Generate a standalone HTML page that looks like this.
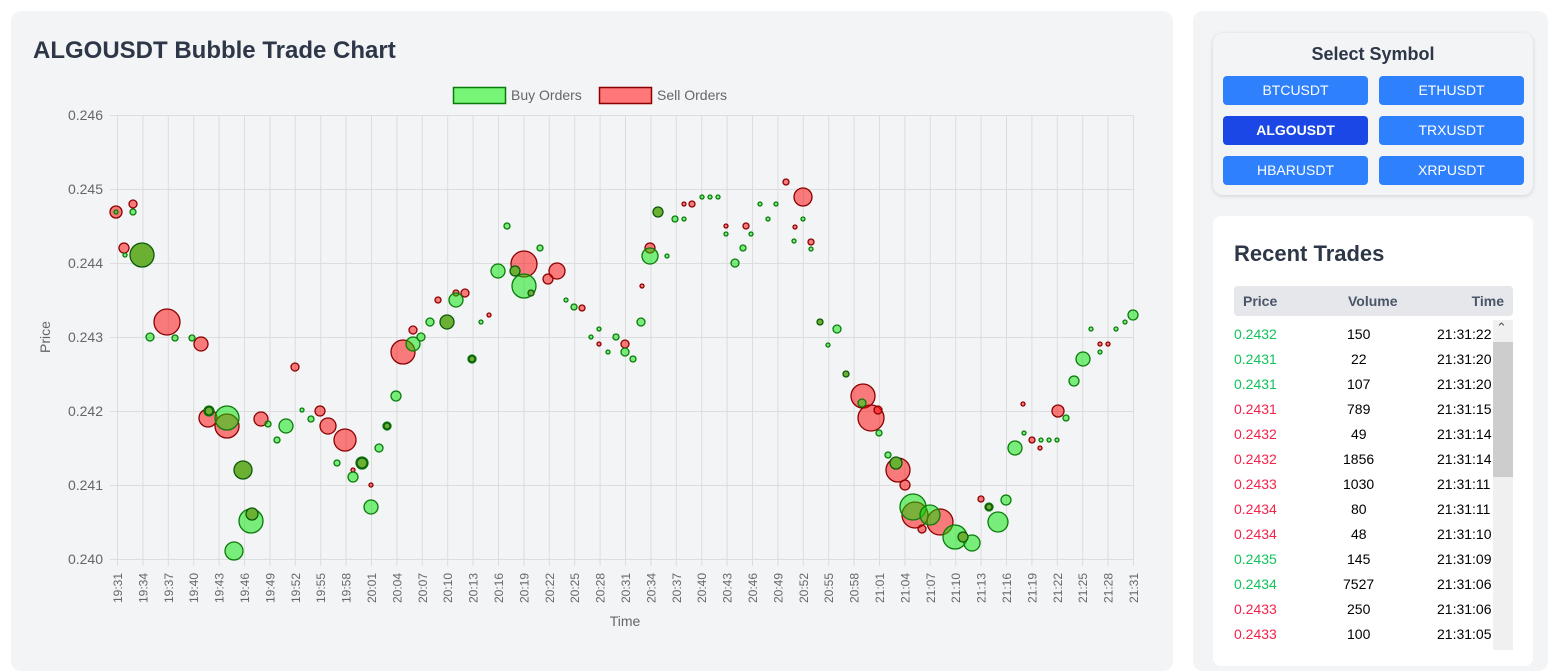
<!DOCTYPE html>
<html><head><meta charset="utf-8"><style>
body{margin:0;width:1548px;height:643px;background:#fff;overflow:hidden;font-family:"Liberation Sans",sans-serif;position:relative}
.card{position:absolute;background:#f3f4f6;border-radius:10px}
.btn{position:absolute;width:145px;height:29px;background:#2f80fc;color:#fff;border-radius:4px;font-size:14px;text-align:center;line-height:29px}
.row{position:absolute;left:1234px;width:255px;height:25px;font-size:14px;line-height:25px}
.row span{position:absolute}
.g{color:#0fc45a}.r{color:#f5224a}
</style></head><body>
<div class="card" style="left:11px;top:11px;width:1162px;height:660px"></div>
<div class="card" style="left:1193px;top:11px;width:355px;height:660px"></div>
<div class="card" style="left:1213px;top:33px;width:320px;height:162px;box-shadow:0 1px 4px rgba(0,0,0,.15)"></div>
<div style="position:absolute;left:1213px;top:44px;width:320px;text-align:center;font-weight:bold;font-size:18px;color:#2d3748">Select Symbol</div>
<div class="btn" style="left:1223px;top:76px">BTCUSDT</div>
<div class="btn" style="left:1379px;top:76px">ETHUSDT</div>
<div class="btn" style="left:1223px;top:116px;background:#1a47e5;font-weight:bold">ALGOUSDT</div>
<div class="btn" style="left:1379px;top:116px">TRXUSDT</div>
<div class="btn" style="left:1223px;top:156px">HBARUSDT</div>
<div class="btn" style="left:1379px;top:156px">XRPUSDT</div>
<div style="position:absolute;left:1213px;top:216px;width:320px;height:450px;background:#fff;border-radius:8px"></div>
<div style="position:absolute;left:1234px;top:241px;font-size:22px;font-weight:bold;color:#2d3748">Recent Trades</div>
<div style="position:absolute;left:1234px;top:286px;width:279px;height:30px;background:#e5e7eb;border-radius:4px;font-size:14px;color:#4a5568;font-weight:bold;line-height:30px">
<span style="position:absolute;left:9px">Price</span><span style="position:absolute;left:114px">Volume</span><span style="position:absolute;right:9px">Time</span></div>
<div style="position:absolute;left:1493px;top:320px;width:20px;height:330px;background:#f0f0f0"></div>
<div style="position:absolute;left:1493px;top:342px;width:20px;height:135px;background:#cdcdcd"></div>
<div style="position:absolute;left:1496px;top:320px;font-size:13px;color:#555">&#8963;</div>
<div class="row" style="top:322px"><span class="g">0.2432</span><span style="left:113px">150</span><span style="left:203px">21:31:22</span></div>
<div class="row" style="top:347px"><span class="g">0.2431</span><span style="left:117px">22</span><span style="left:203px">21:31:20</span></div>
<div class="row" style="top:372px"><span class="g">0.2431</span><span style="left:113px">107</span><span style="left:203px">21:31:20</span></div>
<div class="row" style="top:397px"><span class="r">0.2431</span><span style="left:113px">789</span><span style="left:203px">21:31:15</span></div>
<div class="row" style="top:422px"><span class="r">0.2432</span><span style="left:117px">49</span><span style="left:203px">21:31:14</span></div>
<div class="row" style="top:447px"><span class="r">0.2432</span><span style="left:109px">1856</span><span style="left:203px">21:31:14</span></div>
<div class="row" style="top:472px"><span class="r">0.2433</span><span style="left:109px">1030</span><span style="left:203px">21:31:11</span></div>
<div class="row" style="top:497px"><span class="r">0.2434</span><span style="left:117px">80</span><span style="left:203px">21:31:11</span></div>
<div class="row" style="top:522px"><span class="r">0.2434</span><span style="left:117px">48</span><span style="left:203px">21:31:10</span></div>
<div class="row" style="top:547px"><span class="g">0.2435</span><span style="left:113px">145</span><span style="left:203px">21:31:09</span></div>
<div class="row" style="top:572px"><span class="g">0.2434</span><span style="left:109px">7527</span><span style="left:203px">21:31:06</span></div>
<div class="row" style="top:597px"><span class="r">0.2433</span><span style="left:113px">250</span><span style="left:203px">21:31:06</span></div>
<div class="row" style="top:622px"><span class="r">0.2433</span><span style="left:113px">100</span><span style="left:203px">21:31:05</span></div>

<svg style="position:absolute;left:0;top:0" width="1180" height="643" font-family="Liberation Sans, sans-serif">
<text x="33" y="58" font-size="24" font-weight="bold" fill="#2d3748">ALGOUSDT Bubble Trade Chart</text>
<rect x="453.5" y="87.5" width="52" height="16" fill="#77f577" stroke="#0a7a0a" stroke-width="1.5"/>
<text x="511" y="100" font-size="14" fill="#666">Buy Orders</text>
<rect x="599.5" y="87.5" width="52" height="16" fill="#f77" stroke="#8b0000" stroke-width="1.5"/>
<text x="657" y="100" font-size="14" fill="#666">Sell Orders</text>
<g stroke="#ddd" stroke-width="1">
<line x1="110" y1="115.5" x2="1133" y2="115.5"/><line x1="110" y1="189.5" x2="1133" y2="189.5"/><line x1="110" y1="263.5" x2="1133" y2="263.5"/><line x1="110" y1="337.5" x2="1133" y2="337.5"/><line x1="110" y1="411.5" x2="1133" y2="411.5"/><line x1="110" y1="485.5" x2="1133" y2="485.5"/><line x1="110" y1="559.5" x2="1133" y2="559.5"/>
<path d="M117.5 115V566M142.9 115V566M168.3 115V566M193.7 115V566M219.1 115V566M244.5 115V566M269.9 115V566M295.3 115V566M320.7 115V566M346.1 115V566M371.5 115V566M396.9 115V566M422.3 115V566M447.7 115V566M473.1 115V566M498.5 115V566M523.9 115V566M549.3 115V566M574.7 115V566M600.1 115V566M625.5 115V566M650.9 115V566M676.3 115V566M701.7 115V566M727.1 115V566M752.5 115V566M777.9 115V566M803.3 115V566M828.7 115V566M854.1 115V566M879.5 115V566M904.9 115V566M930.3 115V566M955.7 115V566M981.1 115V566M1006.5 115V566M1031.9 115V566M1057.3 115V566M1082.7 115V566M1108.1 115V566M1133.5 115V566"/>
</g>
<g font-size="14" fill="#666" text-anchor="end">
<text x="103" y="120">0.246</text><text x="103" y="194">0.245</text><text x="103" y="268">0.244</text><text x="103" y="342">0.243</text><text x="103" y="416">0.242</text><text x="103" y="490">0.241</text><text x="103" y="564">0.240</text>
</g>
<text transform="translate(50,337) rotate(-90)" font-size="14" fill="#666" text-anchor="middle">Price</text>
<text x="625" y="626" font-size="14" fill="#666" text-anchor="middle">Time</text>
<g font-size="12" fill="#666" text-anchor="end">
<text transform="translate(122,573) rotate(-90)">19:31</text><text transform="translate(147.4,573) rotate(-90)">19:34</text><text transform="translate(172.8,573) rotate(-90)">19:37</text><text transform="translate(198.2,573) rotate(-90)">19:40</text><text transform="translate(223.6,573) rotate(-90)">19:43</text><text transform="translate(249,573) rotate(-90)">19:46</text><text transform="translate(274.4,573) rotate(-90)">19:49</text><text transform="translate(299.8,573) rotate(-90)">19:52</text><text transform="translate(325.2,573) rotate(-90)">19:55</text><text transform="translate(350.6,573) rotate(-90)">19:58</text><text transform="translate(376,573) rotate(-90)">20:01</text><text transform="translate(401.4,573) rotate(-90)">20:04</text><text transform="translate(426.8,573) rotate(-90)">20:07</text><text transform="translate(452.2,573) rotate(-90)">20:10</text><text transform="translate(477.6,573) rotate(-90)">20:13</text><text transform="translate(503,573) rotate(-90)">20:16</text><text transform="translate(528.4,573) rotate(-90)">20:19</text><text transform="translate(553.8,573) rotate(-90)">20:22</text><text transform="translate(579.2,573) rotate(-90)">20:25</text><text transform="translate(604.6,573) rotate(-90)">20:28</text><text transform="translate(630,573) rotate(-90)">20:31</text><text transform="translate(655.4,573) rotate(-90)">20:34</text><text transform="translate(680.8,573) rotate(-90)">20:37</text><text transform="translate(706.2,573) rotate(-90)">20:40</text><text transform="translate(731.6,573) rotate(-90)">20:43</text><text transform="translate(757,573) rotate(-90)">20:46</text><text transform="translate(782.4,573) rotate(-90)">20:49</text><text transform="translate(807.8,573) rotate(-90)">20:52</text><text transform="translate(833.2,573) rotate(-90)">20:55</text><text transform="translate(858.6,573) rotate(-90)">20:58</text><text transform="translate(884,573) rotate(-90)">21:01</text><text transform="translate(909.4,573) rotate(-90)">21:04</text><text transform="translate(934.8,573) rotate(-90)">21:07</text><text transform="translate(960.2,573) rotate(-90)">21:10</text><text transform="translate(985.6,573) rotate(-90)">21:13</text><text transform="translate(1011,573) rotate(-90)">21:16</text><text transform="translate(1036.4,573) rotate(-90)">21:19</text><text transform="translate(1061.8,573) rotate(-90)">21:22</text><text transform="translate(1087.2,573) rotate(-90)">21:25</text><text transform="translate(1112.6,573) rotate(-90)">21:28</text><text transform="translate(1138,573) rotate(-90)">21:31</text>
</g>
<g fill="rgba(255,0,0,0.5)" stroke="#8b0000" stroke-width="1.3">
<circle cx="116" cy="212" r="6"/><circle cx="124" cy="248" r="5"/><circle cx="133" cy="204" r="4"/><circle cx="167" cy="322" r="13"/><circle cx="201" cy="344" r="7"/><circle cx="208" cy="418" r="9"/><circle cx="227" cy="426" r="12"/><circle cx="261" cy="419" r="7"/><circle cx="295" cy="367" r="4"/><circle cx="320" cy="411" r="5"/><circle cx="328" cy="426" r="8"/><circle cx="345" cy="440" r="11"/><circle cx="403" cy="352" r="12"/><circle cx="413" cy="330" r="4"/><circle cx="438" cy="300" r="3"/><circle cx="465" cy="293" r="4"/><circle cx="456" cy="293" r="3"/><circle cx="524" cy="264" r="13"/><circle cx="548" cy="279" r="5"/><circle cx="557" cy="271" r="8"/><circle cx="582" cy="308" r="3"/><circle cx="650" cy="248" r="5"/><circle cx="642" cy="286" r="2"/><circle cx="692" cy="204" r="3"/><circle cx="684" cy="204" r="2"/><circle cx="803" cy="197" r="9"/><circle cx="786" cy="182" r="3"/><circle cx="811" cy="242" r="3"/><circle cx="795" cy="227" r="2"/><circle cx="863" cy="396" r="12"/><circle cx="871" cy="418" r="13"/><circle cx="878" cy="410" r="4"/><circle cx="898" cy="470" r="12"/><circle cx="905" cy="485" r="5"/><circle cx="915" cy="515" r="13"/><circle cx="922" cy="529" r="4"/><circle cx="940" cy="522" r="13"/><circle cx="981" cy="499" r="3"/><circle cx="1058" cy="411" r="6"/><circle cx="1032" cy="440" r="3"/><circle cx="1108" cy="344" r="2"/><circle cx="746" cy="226" r="3"/><circle cx="726" cy="226" r="2"/><circle cx="625" cy="344" r="4"/><circle cx="489" cy="315" r="2"/><circle cx="371" cy="485" r="2"/><circle cx="353" cy="470" r="2"/><circle cx="820" cy="322" r="2"/><circle cx="846" cy="374" r="2"/><circle cx="1023" cy="404" r="2"/><circle cx="1100" cy="344" r="2"/><circle cx="1040" cy="448" r="2"/><circle cx="599" cy="344" r="2"/>
</g>
<g fill="rgba(0,230,0,0.5)" stroke="#0a7a0a" stroke-width="1.3">
<circle cx="116" cy="212" r="2"/><circle cx="125" cy="255" r="2"/><circle cx="133" cy="212" r="3"/><circle cx="150" cy="337" r="4"/><circle cx="175" cy="338" r="3"/><circle cx="192" cy="338" r="3"/><circle cx="209" cy="411" r="5"/><circle cx="227" cy="418" r="12"/><circle cx="234" cy="551" r="9"/><circle cx="251" cy="521" r="12"/><circle cx="268" cy="424" r="3"/><circle cx="277" cy="440" r="3"/><circle cx="286" cy="426" r="7"/><circle cx="302" cy="410" r="2"/><circle cx="311" cy="419" r="3"/><circle cx="337" cy="463" r="3"/><circle cx="353" cy="477" r="5"/><circle cx="362" cy="463" r="6"/><circle cx="371" cy="507" r="7"/><circle cx="379" cy="448" r="4"/><circle cx="387" cy="426" r="4"/><circle cx="396" cy="396" r="5"/><circle cx="413" cy="344" r="7"/><circle cx="421" cy="337" r="4"/><circle cx="430" cy="322" r="4"/><circle cx="456" cy="300" r="7"/><circle cx="472" cy="359" r="4"/><circle cx="481" cy="322" r="2"/><circle cx="498" cy="271" r="7"/><circle cx="507" cy="226" r="3"/><circle cx="524" cy="286" r="12"/><circle cx="540" cy="248" r="3"/><circle cx="566" cy="300" r="2"/><circle cx="574" cy="307" r="3"/><circle cx="591" cy="337" r="2"/><circle cx="599" cy="329" r="2"/><circle cx="608" cy="352" r="2"/><circle cx="616" cy="337" r="3"/><circle cx="625" cy="352" r="4"/><circle cx="633" cy="359" r="3"/><circle cx="641" cy="322" r="4"/><circle cx="650" cy="256" r="8"/><circle cx="667" cy="256" r="2"/><circle cx="675" cy="219" r="3"/><circle cx="684" cy="219" r="2"/><circle cx="702" cy="197" r="2"/><circle cx="710" cy="197" r="2"/><circle cx="718" cy="197" r="2"/><circle cx="726" cy="234" r="2"/><circle cx="735" cy="263" r="4"/><circle cx="743" cy="248" r="3"/><circle cx="751" cy="234" r="2"/><circle cx="760" cy="204" r="2"/><circle cx="768" cy="219" r="2"/><circle cx="776" cy="204" r="2"/><circle cx="794" cy="241" r="2"/><circle cx="803" cy="219" r="2"/><circle cx="811" cy="249" r="2"/><circle cx="828" cy="345" r="2"/><circle cx="837" cy="329" r="4"/><circle cx="862" cy="403" r="4"/><circle cx="879" cy="433" r="3"/><circle cx="888" cy="455" r="3"/><circle cx="913" cy="507" r="13"/><circle cx="930" cy="515" r="10"/><circle cx="955" cy="537" r="12"/><circle cx="972" cy="543" r="8"/><circle cx="989" cy="507" r="4"/><circle cx="998" cy="522" r="10"/><circle cx="1006" cy="500" r="5"/><circle cx="1015" cy="448" r="7"/><circle cx="1024" cy="433" r="2"/><circle cx="1041" cy="440" r="2"/><circle cx="1049" cy="440" r="2"/><circle cx="1057" cy="440" r="2"/><circle cx="1066" cy="418" r="3"/><circle cx="1074" cy="381" r="5"/><circle cx="1083" cy="359" r="7"/><circle cx="1091" cy="329" r="2"/><circle cx="1100" cy="352" r="2"/><circle cx="1116" cy="329" r="2"/><circle cx="1125" cy="322" r="2"/><circle cx="1133" cy="315" r="5"/>
</g>
<g fill="#6cb033" stroke="#0a5a0a" stroke-width="1.3">
<circle cx="142" cy="255" r="12"/><circle cx="243" cy="470" r="9"/><circle cx="252" cy="514" r="6"/><circle cx="447" cy="322" r="7"/><circle cx="515" cy="271" r="5"/><circle cx="531" cy="293" r="3"/><circle cx="658" cy="212" r="5"/><circle cx="820" cy="322" r="3"/><circle cx="846" cy="374" r="3"/><circle cx="896" cy="463" r="6"/><circle cx="963" cy="537" r="5"/><circle cx="209" cy="411" r="4"/><circle cx="362" cy="463" r="5"/><circle cx="387" cy="426" r="3"/><circle cx="472" cy="359" r="3"/><circle cx="989" cy="507" r="3"/>
</g>
</svg>
</body></html>
